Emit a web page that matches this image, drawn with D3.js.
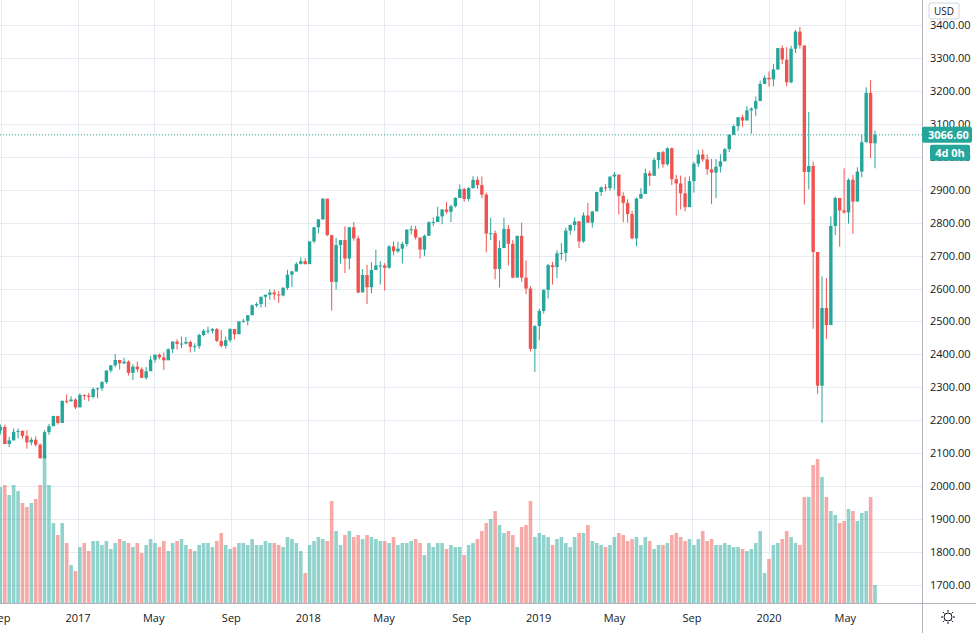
<!DOCTYPE html>
<head>
  <meta charset="utf-8">
  <script src="https://cdn.jsdelivr.net/npm/d3@7"></script>
</head>
<style>
  body { margin: 0; background: #fff; }
  text { font-family: "Open Sans", "Noto Sans", sans-serif; font-size: 11px; fill: #131722; }
</style>
<body>
<svg id="chart" width="976" height="633"></svg>
<script>
// weekly bars, first week starts Mon 29 Aug 2016
var firstOpen = 2169;
var closes = [
 2180,2128,2139,2165,2168,2153,2133,2141,2126,2085,2164,2182,2213,2192,2259,2258,2263,2239,
 2277,2275,2271,2295,2297,2316,2351,2367,2383,2373,2378,2344,2363,2355,2329,2349,2384,2399,2391,2382,2416,2439,2432,2433,2438,2423,2425,2459,2472,2472,2477,2441,2426,2443,2477,2461,2500,2502,2519,2549,2553,2575,2581,2588,2582,2579,2602,2642,2652,2675,2683,2674,
 2743,2786,2810,2873,2762,2620,2732,2747,2691,2786,2752,2588,2641,2604,2656,2670,2670,2663,2728,2713,2721,2735,2779,2780,2755,2718,2760,2801,2802,2819,2840,2833,2850,2875,2902,2872,2905,2930,2914,2885,2767,2768,2659,2723,2781,2736,2633,2760,2633,2600,2417,2486,2532,
 2596,2671,2665,2707,2708,2776,2793,2804,2743,2822,2800,2834,2893,2907,2905,2940,2946,2881,2860,2826,2752,2873,2887,2950,2942,2990,3014,2977,3026,2932,2919,2889,2847,2926,2979,3007,2992,2962,2952,2970,2986,3023,3067,3093,3120,3110,3141,3146,3169,3221,3240,3235,
 3265,3330,3295,3226,3328,3380,3338,2954,2972,2711,2305,2541,2489,2790,2875,2837,2831,2930,2864,2955,3044,3194,3041,3066.6];
var highs = [
 2187,2187,2150,2175,2175,2169,2170,2148,2151,2130,2170,2189,2214,2214,2260,2278,2273,2267,
 2282,2279,2283,2300,2299,2319,2352,2367,2401,2384,2390,2382,2370,2378,2361,2362,2396,2400,2403,2406,2418,2440,2446,2454,2453,2442,2434,2463,2477,2484,2480,2480,2474,2454,2480,2475,2500,2508,2519,2552,2558,2575,2582,2597,2597,2592,2605,2657,2654,2680,2695,2692,
 2743,2787,2811,2873,2870,2763,2754,2747,2789,2787,2802,2761,2659,2672,2680,2718,2683,2677,2732,2743,2742,2742,2779,2791,2790,2752,2764,2804,2816,2848,2841,2863,2855,2877,2916,2906,2908,2941,2940,2940,2891,2815,2776,2745,2815,2793,2747,2760,2800,2685,2607,2489,2538,
 2597,2675,2681,2716,2738,2785,2794,2816,2804,2831,2860,2836,2894,2910,2917,2940,2954,2931,2892,2871,2836,2876,2905,2964,2958,2996,3014,3018,3028,3028,2945,2943,2939,2940,2985,3021,3022,3007,2993,2993,3008,3027,3067,3097,3121,3127,3154,3150,3183,3231,3247,3259,
 3282,3330,3338,3333,3337,3385,3394,3260,3136,2985,2553,2637,2632,2819,2879,2871,2965,2934,2945,2968,3068,3211,3233,3079];
var lows = [
 2157,2127,2119,2139,2145,2145,2114,2124,2120,2083,2084,2156,2183,2187,2192,2251,2257,2234,
 2245,2262,2258,2266,2267,2289,2311,2345,2361,2354,2370,2336,2322,2346,2328,2323,2373,2375,2385,2353,2383,2404,2415,2419,2430,2406,2408,2417,2455,2463,2464,2437,2421,2418,2437,2446,2463,2496,2488,2520,2543,2542,2544,2566,2566,2557,2576,2596,2605,2651,2673,2673,
 2682,2737,2768,2808,2759,2533,2597,2675,2647,2658,2745,2585,2594,2553,2586,2660,2612,2594,2660,2701,2708,2676,2727,2764,2749,2691,2698,2769,2789,2802,2795,2827,2802,2846,2876,2864,2865,2903,2903,2874,2710,2747,2628,2603,2722,2670,2631,2649,2621,2583,2409,2347,2443,
 2524,2570,2612,2631,2687,2682,2763,2775,2723,2739,2799,2785,2837,2881,2895,2897,2900,2825,2801,2800,2750,2728,2874,2887,2912,2952,2964,2967,2973,2914,2822,2840,2834,2853,2891,2969,2985,2945,2856,2874,2952,2991,3014,3066,3078,3091,3115,3070,3123,3183,3226,3213,
 3214,3263,3281,3214,3223,3315,3328,2855,2901,2478,2281,2192,2447,2505,2762,2727,2827,2797,2766,2865,2938,3044,2996,2965];
var volumes = [
 5.8,5.9,5.4,5.9,5.6,5.0,4.8,5.0,5.2,5.9,7.4,5.9,4.0,3.4,4.0,3.0,1.9,1.6,
 2.8,3.0,2.6,3.1,3.1,2.9,3.1,2.7,3.0,3.2,3.1,3.0,2.8,3.0,2.5,2.9,3.2,3.0,2.8,3.1,2.6,3.0,3.1,3.2,2.9,2.7,2.6,2.9,3.0,3.0,2.8,3.1,3.5,2.9,2.7,2.8,3.0,3.0,2.9,3.2,2.9,2.9,3.1,3.0,3.0,2.9,2.8,3.3,3.2,3.0,2.6,1.5,
 2.9,3.1,3.3,3.2,3.1,5.1,3.6,2.9,3.4,3.6,3.3,3.4,3.2,3.4,3.3,3.2,3.1,3.1,3.0,3.3,2.9,3.0,3.0,3.1,3.2,3.0,2.4,3.0,2.8,3.0,3.0,2.7,2.9,2.8,2.8,2.4,2.9,3.0,3.2,3.6,4.0,4.2,4.6,3.9,3.5,3.6,3.4,2.8,3.8,3.9,5.1,3.3,3.5,
 3.4,3.3,2.9,3.2,3.3,3.0,2.8,3.3,3.5,3.5,3.9,3.1,3.0,2.9,2.8,2.9,3.3,3.5,3.4,3.1,3.2,3.3,2.9,3.3,3.1,2.7,2.9,2.9,3.0,3.4,3.5,3.3,3.1,3.2,2.9,3.2,3.6,3.1,3.2,2.9,2.9,3.0,2.9,2.8,2.8,2.7,2.6,2.7,3.0,3.6,1.5,2.2,
 2.9,3.0,3.2,3.6,3.3,3.0,2.9,5.3,5.3,6.9,7.2,6.3,5.3,4.6,4.4,4.0,4.1,4.7,4.6,4.1,4.5,4.6,5.3,0.9];
var priceTicks = [1700,1800,1900,2000,2100,2200,2300,2400,2500,2600,2700,2800,2900,3000,3100,3200,3300,3400];
var timeTicks = ["2016-09-01","2017-01-01","2017-05-01","2017-09-01","2018-01-01","2018-05-01","2018-09-01","2019-01-01","2019-05-01","2019-09-01","2020-01-01","2020-05-01"];
var timeLabels = ["Sep","2017","May","Sep","2018","May","Sep","2019","May","Sep","2020","May"];
var lastPrice = 3066.60;

var W = 976, H = 633, plotW = 922, plotH = 603;
var up = "#26a69a", down = "#ef5350";
var svg = d3.select("#chart");

var start = new Date(2016, 7, 29);
var data = closes.map(function(c, i) {
  return { date: d3.timeWeek.offset(start, i), o: i ? closes[i-1] : firstOpen, c: c, h: highs[i], l: lows[i], v: volumes[i] };
});

var x = d3.scaleTime().domain([new Date(2017, 0, 1), new Date(2020, 0, 1)]).range([78, 769]);
var y = d3.scaleLinear().domain([1700, 3400]).range([585, 25]);
var yv = d3.scaleLinear().domain([0, 7.4]).range([plotH, 455]);
var xc = function(d) { return x(d3.timeDay.offset(d.date, 2)); };

var clip = svg.append("clipPath").attr("id", "clip").append("rect").attr("width", plotW).attr("height", plotH);

// grid
var grid = svg.append("g").attr("stroke", "#e6ebf2").attr("stroke-width", 1);
grid.selectAll(".h").data(priceTicks).enter().append("line")
  .attr("x1", 0).attr("x2", plotW).attr("y1", function(d) { return Math.round(y(d)) + 0.5; }).attr("y2", function(d) { return Math.round(y(d)) + 0.5; });
grid.selectAll(".v").data(timeTicks).enter().append("line")
  .attr("y1", 0).attr("y2", plotH).attr("x1", function(d) { return Math.round(x(new Date(d))) + 0.5; }).attr("x2", function(d) { return Math.round(x(new Date(d))) + 0.5; });

var plot = svg.append("g").attr("clip-path", "url(#clip)");

// volume
plot.selectAll(".vol").data(data).enter().append("rect")
  .attr("x", function(d) { return xc(d) - 1.8; }).attr("width", 3.6)
  .attr("y", function(d) { return yv(d.v); }).attr("height", function(d) { return plotH - yv(d.v); })
  .attr("fill", function(d) { return d.c >= d.o ? up : down; }).attr("fill-opacity", 0.5);

// candles
plot.selectAll(".wick").data(data).enter().append("line")
  .attr("x1", xc).attr("x2", xc)
  .attr("y1", function(d) { return y(d.h); }).attr("y2", function(d) { return y(d.l); })
  .attr("stroke", function(d) { return d.c >= d.o ? up : down; }).attr("stroke-width", 1);
plot.selectAll(".body").data(data).enter().append("rect")
  .attr("x", function(d) { return xc(d) - 1.7; }).attr("width", 3.4)
  .attr("y", function(d) { return y(Math.max(d.o, d.c)); })
  .attr("height", function(d) { return Math.max(1, Math.abs(y(d.o) - y(d.c))); })
  .attr("fill", function(d) { return d.c >= d.o ? up : down; });

// last price line
plot.append("line").attr("x1", 0).attr("x2", plotW).attr("y1", y(lastPrice)).attr("y2", y(lastPrice))
  .attr("stroke", up).attr("stroke-dasharray", "1,2");

// axes borders
svg.append("line").attr("x1", plotW + 0.5).attr("x2", plotW + 0.5).attr("y1", 0).attr("y2", H).attr("stroke", "#b2b5be");
svg.append("line").attr("x1", 0).attr("x2", W).attr("y1", plotH + 0.5).attr("y2", plotH + 0.5).attr("stroke", "#b2b5be");

// price axis
svg.selectAll(".pl").data(priceTicks).enter().append("text")
  .attr("x", 930).attr("y", function(d) { return y(d) + 4; }).text(function(d) { return d3.format(".2f")(d); });
svg.append("rect").attr("x", 929).attr("y", 3).attr("width", 30).attr("height", 16).attr("rx", 2)
  .attr("fill", "#fff").attr("stroke", "#d1d4dc");
svg.append("text").attr("x", 944).attr("y", 15).attr("text-anchor", "middle").style("font-size", "10px").text("USD");

// time axis
svg.selectAll(".tl").data(timeTicks).enter().append("text")
  .attr("x", function(d, i) { return x(new Date(d)); }).attr("y", 622).attr("text-anchor", "middle")
  .text(function(d, i) { return timeLabels[i]; });

// price + countdown labels
var ly = y(lastPrice);
svg.append("rect").attr("x", 922).attr("y", ly - 8).attr("width", 50).attr("height", 16).attr("rx", 2).attr("fill", up);
svg.append("text").attr("x", 928).attr("y", ly + 4).style("fill", "#fff").style("font-weight", "bold").text(d3.format(".2f")(lastPrice));
svg.append("rect").attr("x", 930).attr("y", ly + 10).attr("width", 40).attr("height", 16).attr("rx", 2).attr("fill", up);
svg.append("text").attr("x", 950).attr("y", ly + 22).attr("text-anchor", "middle").style("fill", "#fff").style("font-weight", "bold").text("4d 0h");

// gear icon
var gear = svg.append("g").attr("transform", "translate(948,617)").attr("stroke", "#131722").attr("fill", "none");
gear.append("circle").attr("r", 4);
d3.range(8).forEach(function(k) {
  var a = k * Math.PI / 4;
  gear.append("line").attr("x1", Math.cos(a) * 5).attr("y1", Math.sin(a) * 5).attr("x2", Math.cos(a) * 7).attr("y2", Math.sin(a) * 7);
});
</script>
</body>
